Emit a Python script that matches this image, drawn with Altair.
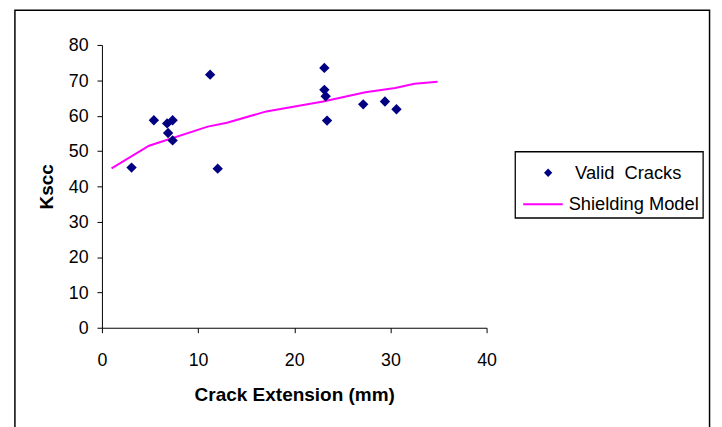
import altair as alt
import pandas as pd

# Valid cracks (measured data)
crack_ext = [3.08, 5.40, 6.78, 6.88, 7.35, 7.35, 11.25, 12.04, 23.13, 23.13, 23.27, 23.41, 27.17, 29.43, 30.63]
kscc = [45.3, 58.7, 57.8, 55.1, 58.7, 53.0, 71.6, 45.0, 73.5, 67.3, 65.5, 58.6, 63.2, 64.0, 61.8]

# Shielding model curve
model_x = [1.0, 4.9, 11.0, 13.0, 17.1, 23.0, 27.4, 30.5, 32.5, 34.9]
model_y = [45.1, 51.5, 56.9, 58.0, 61.2, 64.0, 66.6, 67.8, 69.0, 69.6]

x_ticks = [0, 10, 20, 30, 40]
y_ticks = [0, 10, 20, 30, 40, 50, 60, 70, 80]

pts = pd.DataFrame({"x": crack_ext, "y": kscc, "series": "Valid\u00a0 Cracks"})
mdl = pd.DataFrame({"x": model_x, "y": model_y, "model": "Shielding Model"})

FONT = "Liberation Sans"

x_enc = alt.X("x:Q", scale=alt.Scale(domain=[0, 40], nice=False),
              axis=alt.Axis(values=x_ticks, grid=False, domainColor="black", tickColor="black",
                            tickSize=5, labelFontSize=18, labelFont=FONT, labelColor="black",
                            labelPadding=19, labelOverlap=False, labelFlush=False,
                            title="Crack Extension (mm)", titleFontSize=19.2,
                            titleFont=FONT, titleFontWeight="bold", titleColor="black",
                            titleY=74, titleBaseline="alphabetic"))
y_enc = alt.Y("y:Q", scale=alt.Scale(domain=[0, 80], nice=False),
              axis=alt.Axis(values=y_ticks, tickCount=9, grid=False, domainColor="black",
                            tickColor="black", tickSize=5, labelFontSize=18, labelFont=FONT,
                            labelColor="black", labelPadding=9, labelOffset=1,
                            labelOverlap=False, labelFlush=False, title="Kscc", titleFontSize=19.2,
                            titleFont=FONT, titleFontWeight="bold", titleColor="black",
                            titleX=-50, titleBaseline="alphabetic"))

points = alt.Chart(pts).mark_point(shape="diamond", filled=True, size=110, opacity=1).encode(
    x=x_enc, y=y_enc,
    color=alt.Color("series:N", scale=alt.Scale(domain=["Valid\u00a0 Cracks"], range=["#000080"]),
                    legend=alt.Legend(orient="none", legendX=442, legendY=120, title=None,
                                      symbolType="diamond", symbolSize=70, labelFontSize=18.5,
                                      labelFont=FONT, labelColor="black", labelOffset=18,
                                      padding=0, symbolOpacity=1)),
)

line = alt.Chart(mdl).mark_line(strokeWidth=2).encode(
    x="x:Q", y="y:Q",
    stroke=alt.Stroke("model:N", scale=alt.Scale(domain=["Shielding Model"], range=["#ff00ff"]),
                      legend=alt.Legend(orient="none", legendX=425, legendY=140, title=None,
                                        symbolType="stroke", symbolSize=1600, symbolStrokeWidth=2,
                                        labelFontSize=18.5, labelFont=FONT, labelColor="black",
                                        labelOffset=5, padding=0)),
)

box = alt.Chart(alt.Data(values=[{"k": 1}])).mark_rect(fill=None, stroke="black", strokeWidth=1.3).encode(
    x=alt.value(418), x2=alt.value(608), y=alt.value(108), y2=alt.value(175)
)
frame = alt.Chart(alt.Data(values=[{"k": 1}])).mark_rect(fill=None, stroke="black", strokeWidth=1.5).encode(
    x=alt.value(-88), x2=alt.value(614.5), y=alt.value(-35), y2=alt.value(400)
)

chart = alt.layer(line, points, box, frame).properties(
    width=389, height=286,
    autosize=alt.AutoSizeParams(type="none"),
    padding={"left": 95, "top": 35, "right": 230, "bottom": 98},
    background="white",
).resolve_scale(color="independent").configure_view(stroke=None)

chart.save("out.html", embed_options={"renderer": "svg", "actions": False})
